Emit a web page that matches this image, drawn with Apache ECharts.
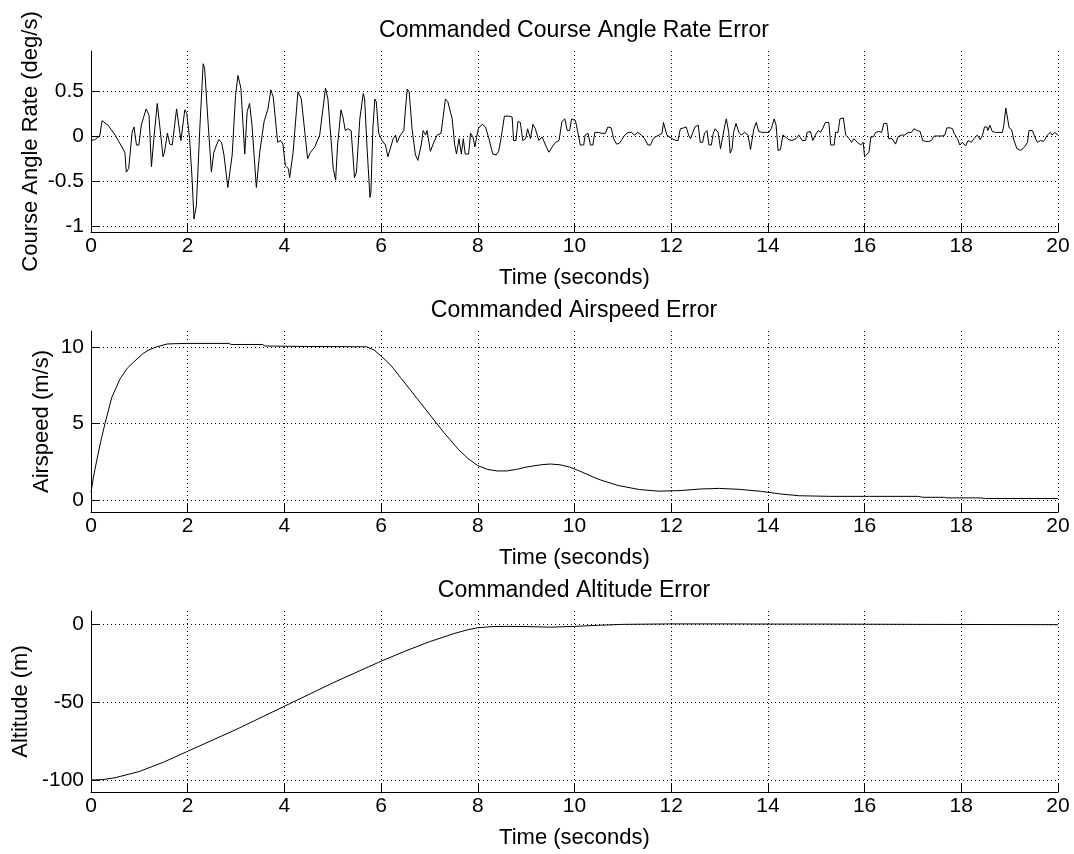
<!DOCTYPE html>
<html><head><meta charset="utf-8">
<script src="https://cdn.jsdelivr.net/npm/echarts@6/dist/echarts.min.js"></script>
<style>html,body{margin:0;padding:0;background:#fff}#c{width:1074px;height:854px}</style>
</head><body><div id="c"></div>
<script>
// ---------- data ----------
const xTicks = [0, 2, 4, 6, 8, 10, 12, 14, 16, 18, 20];
const rateTicks = [-1, -0.5, 0, 0.5];
const speedTicks = [0, 5, 10];
const altTicks = [-100, -50, 0];

const titles = ['Commanded Course Angle Rate Error', 'Commanded Airspeed Error', 'Commanded Altitude Error'];
const yNames = ['Course Angle Rate (deg/s)', 'Airspeed (m/s)', 'Altitude (m)'];
const xName = 'Time (seconds)';

const rateT = [0.00,0.08,0.18,0.23,0.35,0.50,0.54,0.70,0.73,0.78,0.85,0.89,0.94,0.99,1.04,1.14,1.20,1.25,1.30,1.37,1.42,1.49,1.52,1.58,1.63,1.68,1.77,1.80,1.86,1.94,1.98,
2.04,2.09,2.13,2.18,2.25,2.32,2.35,2.42,2.49,2.54,2.64,2.70,2.75,2.83,2.92,2.99,3.04,3.10,3.18,3.23,3.28,3.33,3.42,3.49,3.58,3.66,3.72,3.77,3.86,3.92,3.97,
4.02,4.08,4.11,4.18,4.28,4.35,4.48,4.54,4.63,4.73,4.85,4.90,5.01,5.06,5.10,5.17,5.21,5.26,5.31,5.35,5.38,5.45,5.49,5.56,5.63,5.66,5.71,5.77,5.79,5.83,5.87,5.90,5.95,
6.02,6.09,6.14,6.18,6.25,6.30,6.33,6.40,6.47,6.50,6.54,6.58,6.64,6.71,6.76,6.83,6.87,6.92,6.95,7.02,7.09,7.16,7.24,7.33,7.38,7.47,7.52,7.56,7.61,7.66,7.70,7.74,7.81,7.85,7.90,7.94,
8.01,8.09,8.16,8.23,8.31,8.38,8.43,8.48,8.55,8.64,8.71,8.74,8.79,8.83,8.88,8.93,8.99,9.03,9.09,9.14,9.19,9.26,9.33,9.40,9.47,9.54,9.61,9.68,9.74,9.80,9.85,9.90,9.94,
10.02,10.08,10.12,10.19,10.22,10.28,10.33,10.38,10.42,10.50,10.55,10.64,10.69,10.76,10.81,10.87,10.93,10.98,11.04,11.11,11.18,11.24,11.31,11.38,11.45,11.52,11.57,11.62,11.67,11.75,11.81,11.84,11.88,11.91,
12.02,12.09,12.14,12.19,12.26,12.31,12.36,12.40,12.44,12.49,12.56,12.60,12.65,12.69,12.74,12.78,12.83,12.87,12.91,12.97,13.02,13.05,13.11,13.14,13.19,13.22,13.26,13.29,13.34,13.40,13.45,13.52,13.59,13.64,13.67,13.71,13.76,13.81,13.88,13.95,
14.02,14.07,14.13,14.17,14.21,14.26,14.31,14.36,14.43,14.50,14.58,14.64,14.71,14.78,14.81,14.88,14.93,14.98,15.04,15.09,15.13,15.19,15.26,15.30,15.37,15.40,15.45,15.49,15.56,15.61,15.68,15.73,15.78,15.85,15.92,15.97,
16.00,16.04,16.09,16.13,16.18,16.23,16.30,16.35,16.40,16.46,16.50,16.57,16.64,16.69,16.76,16.83,16.90,16.97,17.02,17.09,17.15,17.20,17.26,17.33,17.38,17.44,17.52,17.61,17.66,17.70,17.77,17.82,17.85,17.92,17.97,
18.02,18.09,18.14,18.21,18.26,18.33,18.39,18.44,18.48,18.53,18.55,18.59,18.64,18.71,18.78,18.85,18.88,18.92,18.95,18.99,19.04,19.09,19.15,19.23,19.31,19.37,19.40,19.47,19.52,19.57,19.64,19.70,19.75,19.78,19.84,19.88,19.93,20.00];
const rateV = [-0.05,-0.04,0.00,0.17,0.12,0.01,0.03,-0.18,-0.40,-0.36,0.04,0.10,-0.10,-0.10,0.12,0.30,0.23,-0.34,-0.03,0.36,0.12,-0.23,-0.18,0.03,-0.09,-0.10,0.30,0.29,-0.05,0.29,0.25,
-0.03,-0.47,-0.92,-0.77,0.08,0.80,0.75,0.16,-0.40,-0.18,-0.04,-0.07,-0.21,-0.57,-0.21,0.45,0.67,0.53,-0.20,0.27,0.36,0.12,-0.57,-0.18,0.16,0.30,0.51,0.43,-0.07,-0.05,-0.09,
-0.33,-0.36,-0.46,-0.18,0.49,0.41,-0.25,-0.18,-0.12,0.01,0.53,0.41,-0.36,-0.49,-0.10,0.29,0.21,0.06,0.08,0.10,0.06,-0.46,-0.40,0.19,0.47,0.41,-0.14,-0.68,-0.62,0.08,0.41,0.38,0.03,
-0.05,-0.10,-0.23,-0.21,-0.03,0.01,-0.07,0.01,0.06,0.27,0.52,0.49,0.08,-0.21,-0.27,-0.10,0.06,0.01,0.06,-0.17,-0.07,0.01,0.03,0.41,0.38,0.19,-0.09,-0.20,-0.03,-0.20,-0.03,-0.20,-0.20,0.03,-0.01,-0.12,
0.08,0.13,0.10,-0.03,-0.20,-0.21,-0.17,-0.03,0.22,0.22,0.21,-0.05,-0.05,0.16,0.15,-0.05,-0.03,0.08,-0.03,0.13,0.08,-0.05,-0.01,-0.10,-0.18,-0.12,-0.07,-0.05,0.16,0.19,0.06,0.06,0.19,
0.17,0.01,-0.10,-0.10,0.01,0.03,-0.10,-0.10,0.04,0.04,0.03,0.03,0.10,0.09,-0.03,-0.09,-0.08,-0.04,0.01,0.04,0.04,0.01,0.04,0.01,-0.03,-0.10,-0.10,-0.04,-0.01,0.01,0.03,0.15,0.13,0.01,
-0.03,-0.05,-0.05,0.08,0.09,0.10,0.01,-0.03,-0.04,0.10,0.12,-0.07,-0.07,0.03,0.06,-0.10,-0.10,0.03,0.08,0.04,-0.14,-0.12,0.12,0.19,0.04,-0.19,-0.14,0.04,0.14,0.04,0.01,0.04,0.01,-0.15,-0.15,0.08,0.15,0.05,0.04,0.04,
0.04,0.08,0.19,0.12,-0.16,-0.15,0.01,-0.01,-0.04,-0.05,-0.03,0.01,-0.05,-0.05,0.04,0.05,-0.05,0.01,0.06,0.04,0.08,0.15,0.15,-0.10,-0.10,0.04,0.04,0.19,0.20,0.01,-0.03,-0.07,-0.03,-0.07,-0.10,-0.07,
-0.23,-0.25,-0.18,-0.01,-0.01,0.04,0.05,0.04,0.14,0.14,-0.03,-0.03,-0.09,-0.01,0.01,0.01,0.04,0.04,0.08,0.06,0.05,-0.05,-0.06,-0.06,-0.05,0.00,0.00,0.00,0.01,0.09,0.09,0.08,0.03,-0.03,-0.10,
-0.07,-0.11,-0.05,-0.07,-0.03,0.01,-0.04,0.01,0.10,0.10,0.06,0.12,0.05,0.04,0.04,0.04,0.12,0.31,0.29,0.09,0.07,-0.05,-0.14,-0.16,-0.12,-0.07,0.06,0.06,-0.01,-0.07,-0.05,-0.06,-0.02,0.01,0.04,0.01,0.04,0.01];

const speedT = [0, 0.05, 0.12, 0.2, 0.29, 0.43, 0.6, 0.75, 0.88, 1.08, 1.2, 1.36, 1.57, 1.7, 2.0, 2.85, 2.9, 3.55, 3.6, 4.5, 5.6, 5.7, 5.85, 6.0, 6.2, 6.4, 6.7, 7.0, 7.3, 7.6, 7.8, 8.0, 8.2, 8.4, 8.6, 8.8, 9.0, 9.3, 9.5, 9.7, 9.9, 10.1, 10.5, 10.9, 11.35, 11.75, 12.2, 12.6, 13.0, 13.4, 13.85, 14.25, 14.65, 15.3, 16.1, 17.1, 17.2, 17.65, 17.7, 18.4, 18.5, 20];
const speedV = [0.5, 1.5, 2.6, 3.8, 5.0, 6.7, 7.9, 8.6, 9.0, 9.57, 9.8, 10.0, 10.18, 10.2, 10.22, 10.22, 10.15, 10.15, 10.05, 10.02, 10.0, 10.0, 9.8, 9.4, 8.8, 8.0, 6.8, 5.6, 4.4, 3.3, 2.7, 2.25, 2.0, 1.9, 1.9, 2.0, 2.15, 2.3, 2.35, 2.3, 2.15, 1.9, 1.35, 0.95, 0.68, 0.58, 0.62, 0.72, 0.76, 0.7, 0.57, 0.4, 0.28, 0.24, 0.24, 0.24, 0.18, 0.18, 0.14, 0.14, 0.1, 0.1];

const altT = [0, 0.25, 0.5, 1, 1.5, 2, 3, 4, 5, 6, 6.5, 7, 7.5, 7.8, 8, 8.3, 8.6, 9, 9.5, 10, 10.5, 11, 12, 13, 14, 15, 16, 17, 20];
const altV = [-100, -99.7, -98.5, -94.5, -88.5, -81.5, -67.5, -52.5, -37.5, -23.5, -17, -11, -5.8, -3.2, -2, -1.2, -1.1, -1.2, -1.6, -1.1, -0.4, 0.2, 0.5, 0.5, 0.4, 0.4, 0.3, 0.2, 0];

// ---------- chart ----------
const F = 'Liberation Sans, Arial, sans-serif';
const FS_TICK = 21, FS_LABEL = 22, FS_TITLE = 23;
const gridTops = [51, 331, 611];
const gridH = 181;
const yRanges = [[-1.063, 0.941], [-0.78, 11.03], [-107.7, 8.8]];
const yTicks = [rateTicks, speedTicks, altTicks];
const yNameGaps = [49, 38, 59];
const zip = (a, b) => a.map((t, i) => [t, b[i]]);
const seriesData = [zip(rateT, rateV), zip(speedT, speedV), zip(altT, altV)];

const dotted = { type: [1, 3], color: '#000', width: 1 };
const grids = [], xAxes = [], yAxes = [], series = [], titleArr = [];
for (let i = 0; i < 3; i++) {
  grids.push({ left: 91, right: 16, top: gridTops[i], height: gridH, containLabel: false, outerBoundsMode: 'none' });
  titleArr.push({ text: titles[i], left: 574, textAlign: 'center', top: gridTops[i] - 32, padding: 0,
    textStyle: { fontFamily: F, fontSize: FS_TITLE, fontWeight: 'normal', color: '#000' } });
  xAxes.push({
    type: 'value', gridIndex: i, min: 0, max: 20,
    name: xName, nameLocation: 'middle', nameGap: 35, nameMoveOverlap: false,
    nameTextStyle: { fontFamily: F, fontSize: FS_LABEL, color: '#000' },
    axisLine: { show: true, onZero: false, lineStyle: { color: '#000', width: 1 } },
    axisTick: { show: true, inside: true, length: 9, customValues: xTicks, lineStyle: { color: '#000' } },
    axisLabel: { customValues: xTicks, fontFamily: F, fontSize: FS_TICK, color: '#000', margin: 4 },
    splitLine: { show: true, lineStyle: dotted }
  });
  yAxes.push({
    type: 'value', gridIndex: i, min: yRanges[i][0], max: yRanges[i][1],
    name: yNames[i], nameLocation: 'middle', nameGap: yNameGaps[i], nameRotate: 90, nameMoveOverlap: false,
    nameTextStyle: { fontFamily: F, fontSize: FS_LABEL, color: '#000' },
    axisLine: { show: true, onZero: false, lineStyle: { color: '#000', width: 1 } },
    axisTick: { show: true, inside: true, length: 9, customValues: yTicks[i], lineStyle: { color: '#000' } },
    axisLabel: { customValues: yTicks[i], fontFamily: F, fontSize: FS_TICK, color: '#000', margin: 7 },
    splitLine: { show: true, lineStyle: dotted }
  });
  series.push({
    type: 'line', xAxisIndex: i, yAxisIndex: i, data: seriesData[i],
    showSymbol: false, symbol: 'none', smooth: false,
    lineStyle: { color: '#000', width: 1 }, silent: true
  });
}

const chart = echarts.init(document.getElementById('c'), null, { renderer: 'canvas' });
chart.setOption({
  backgroundColor: '#fff', animation: false,
  title: titleArr, grid: grids, xAxis: xAxes, yAxis: yAxes, series: series
});
</script>
</body></html>
